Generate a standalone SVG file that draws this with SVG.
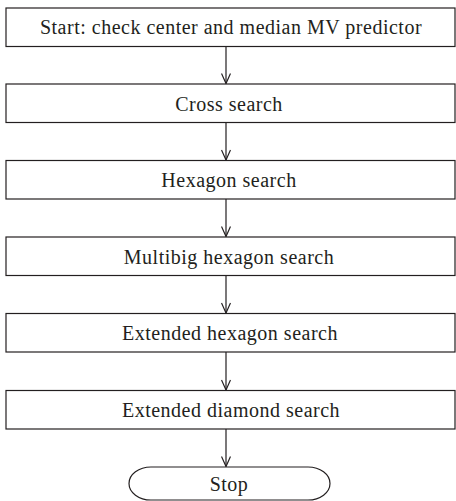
<svg xmlns="http://www.w3.org/2000/svg" width="456" height="501" viewBox="0 0 456 501">
<defs>
<style>
.box{fill:#fff;stroke:#231f20;stroke-width:1.2}
.t{font-family:"Liberation Serif","Times New Roman",serif;font-size:20px;letter-spacing:0.5px;fill:#231f20;text-anchor:middle}
.c{stroke:#231f20;stroke-width:1.2;fill:none}
</style>
<marker id="ah" viewBox="0 0 12 10" refX="11" refY="5" markerWidth="12" markerHeight="10" markerUnits="userSpaceOnUse" orient="auto">
<path d="M1,0.5 L11,5 L1,9.5" fill="none" stroke="#231f20" stroke-width="1.2"/>
</marker>
</defs>
<rect width="456" height="501" fill="#fff"/>
<g id="connectors">
<line class="c" x1="226" y1="46.5" x2="226" y2="83.5" marker-end="url(#ah)"/>
<line class="c" x1="226" y1="122.5" x2="226" y2="160" marker-end="url(#ah)"/>
<line class="c" x1="226" y1="199" x2="226" y2="236.5" marker-end="url(#ah)"/>
<line class="c" x1="226" y1="275.5" x2="226" y2="313" marker-end="url(#ah)"/>
<line class="c" x1="226" y1="352" x2="226" y2="390" marker-end="url(#ah)"/>
<line class="c" x1="226" y1="429" x2="226" y2="466.5" marker-end="url(#ah)"/>
</g>
<g id="n1"><rect class="box" x="6" y="8" width="449" height="38.5"/><text class="t" x="231" y="34">Start: check center and median MV predictor</text></g>
<g id="n2"><rect class="box" x="6" y="84" width="449" height="38.5"/><text class="t" x="229" y="110.5">Cross search</text></g>
<g id="n3"><rect class="box" x="6" y="160.5" width="449" height="38.5"/><text class="t" x="229" y="187">Hexagon search</text></g>
<g id="n4"><rect class="box" x="6" y="237" width="449" height="38.5"/><text class="t" x="229" y="263.5">Multibig hexagon search</text></g>
<g id="n5"><rect class="box" x="6" y="313.5" width="449" height="38.5"/><text class="t" x="230" y="340">Extended hexagon search</text></g>
<g id="n6"><rect class="box" x="6" y="390.5" width="449" height="38.5"/><text class="t" x="231" y="417">Extended diamond search</text></g>
<g id="n7"><rect class="box" x="129" y="467" width="201" height="33" rx="22" ry="16.5"/><text class="t" x="229" y="491">Stop</text></g>
</svg>
